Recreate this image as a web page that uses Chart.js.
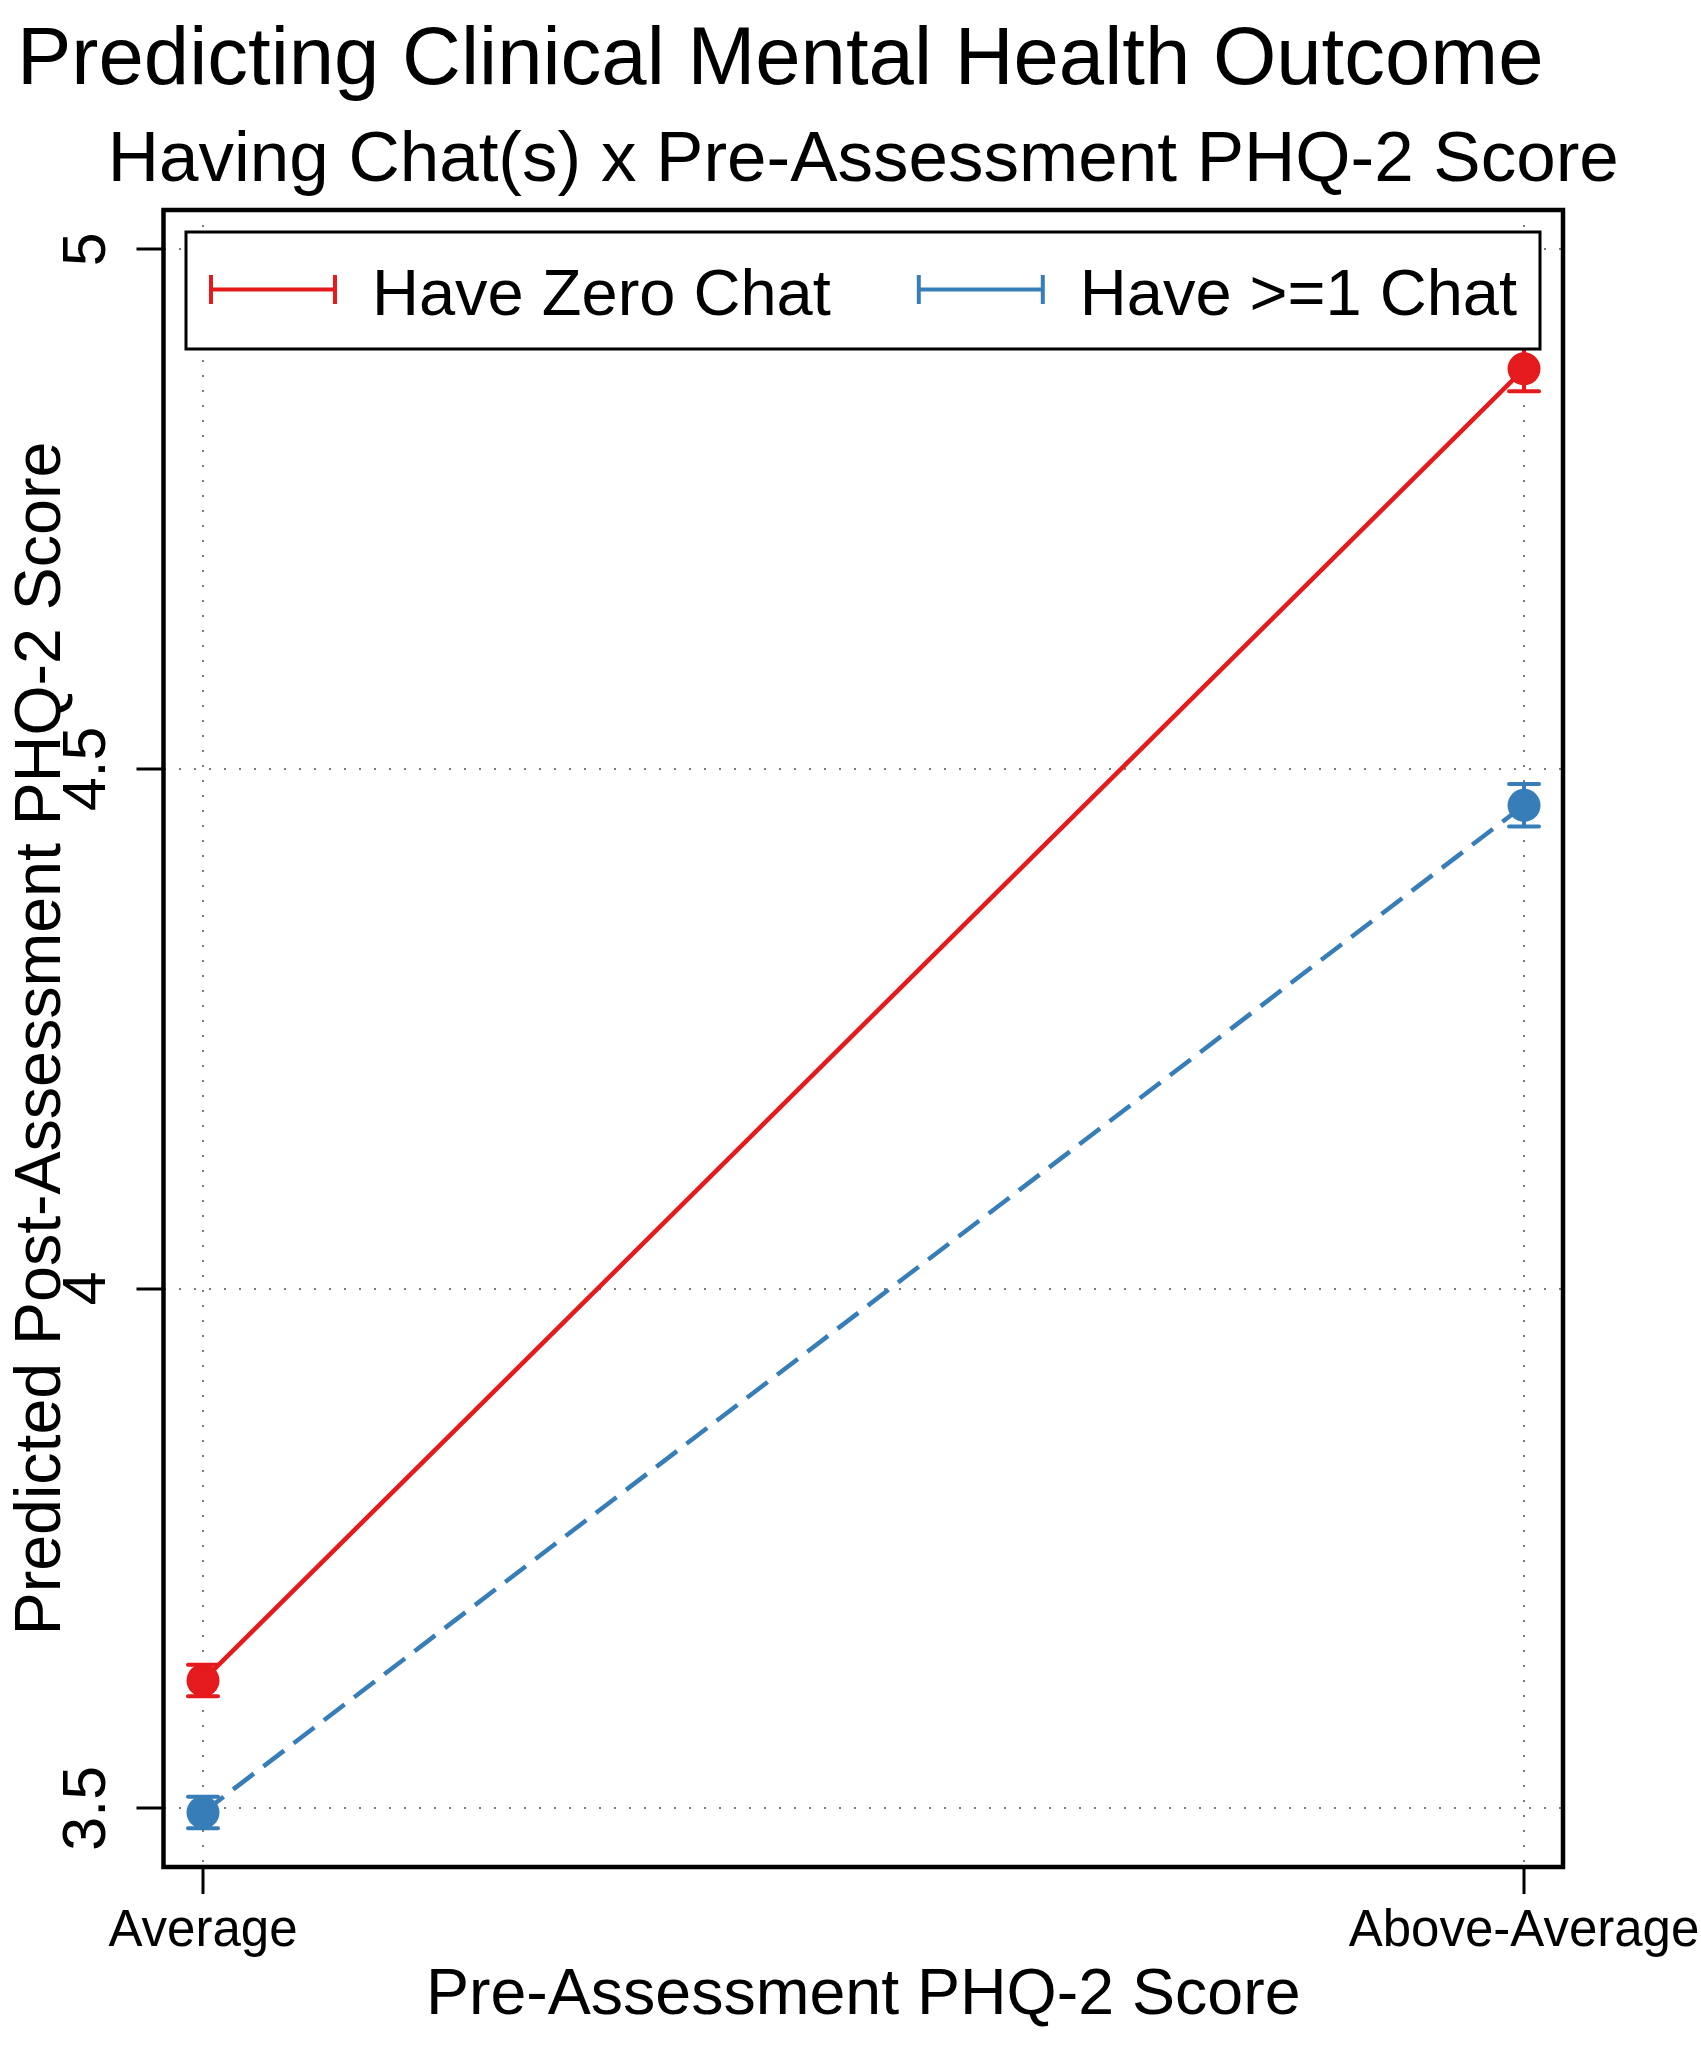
<!DOCTYPE html>
<html>
<head>
<meta charset="utf-8">
<script src="https://cdn.jsdelivr.net/npm/chart.js@4.4.1/dist/chart.umd.min.js"></script>
<style>
  html, body { margin: 0; padding: 0; background: #fff; }
  canvas { display: block; }
</style>
</head>
<body>
<canvas id="chart" width="1701" height="2048"></canvas>
<script>
// values
const xLabels = ['Average', 'Above-Average'];
const xValues = [0, 1];
const seriesNames = ['Have Zero Chat', 'Have >=1 Chat'];
const zeroChat = [3.623, 4.885];
const zeroChatErr = [0.0152, 0.0216];
const oneChat = [3.496, 4.465];
const oneChatErr = [0.0152, 0.0204];
const yTicks = [3.5, 4, 4.5, 5];
const subtitleText = 'Having Chat(s) x Pre-Assessment PHQ-2 Score';

const FONT = "'Liberation Sans', Arial, Helvetica, sans-serif";
const RED = '#e41a1c';
const BLUE = '#377eb8';

Chart.defaults.font.family = FONT;
Chart.defaults.color = '#000';

function toPoints(ys) {
    return xValues.map((x, i) => ({ x: x, y: ys[i] }));
}

// error bars (confidence intervals) drawn with the chart's own scales
const errorBars = {
    id: 'errorBars',
    beforeDatasetsDraw(chart) {
        const { ctx, scales: { x, y } } = chart;
        chart.data.datasets.forEach(ds => {
            ctx.save();
            ctx.strokeStyle = ds.borderColor;
            ctx.lineWidth = 4;
            ctx.lineCap = 'round';
            ds.data.forEach((p, j) => {
                const px = x.getPixelForValue(p.x);
                const lo = y.getPixelForValue(p.y - ds.errors[j]);
                const hi = y.getPixelForValue(p.y + ds.errors[j]);
                ctx.beginPath();
                ctx.moveTo(px, lo); ctx.lineTo(px, hi);
                ctx.moveTo(px - 15, lo); ctx.lineTo(px + 15, lo);
                ctx.moveTo(px - 15, hi); ctx.lineTo(px + 15, hi);
                ctx.stroke();
            });
            ctx.restore();
        });
    }
};

// subtitle centred over the plot, plot frame, boxed legend inside the plot
const frameAndLegend = {
    id: 'frameAndLegend',
    afterDraw(chart) {
        const { ctx, chartArea: a } = chart;
        ctx.save();

        ctx.fillStyle = '#000';
        ctx.font = '71px ' + FONT;
        ctx.textAlign = 'center';
        ctx.textBaseline = 'alphabetic';
        ctx.fillText(subtitleText, (a.left + a.right) / 2, 180.5);

        ctx.strokeStyle = '#000';
        ctx.lineWidth = 4.5;
        ctx.strokeRect(a.left, a.top, a.right - a.left, a.bottom - a.top);

        const bx = a.left + 22.5, by = a.top + 22;
        const bw = a.right - a.left - 45.5, bh = 117;
        ctx.fillStyle = '#fff';
        ctx.fillRect(bx, by, bw, bh);
        ctx.lineWidth = 3;
        ctx.strokeRect(bx, by, bw, bh);

        ctx.font = '65px ' + FONT;
        const sample = 128, gap1 = 35, gap2 = 86;
        const items = chart.data.datasets.map(ds => ({
            label: ds.label,
            color: ds.borderColor,
            w: ctx.measureText(ds.label).width
        }));
        const total = items.reduce((s, it) => s + sample + gap1 + it.w, 0) + gap2 * (items.length - 1);
        let x = bx + (bw - total) / 2;
        const cy = by + 57.5;
        items.forEach(it => {
            ctx.strokeStyle = it.color;
            ctx.lineWidth = 4;
            ctx.beginPath();
            ctx.moveTo(x, cy); ctx.lineTo(x + sample, cy);
            ctx.moveTo(x + 2, cy - 14.5); ctx.lineTo(x + 2, cy + 14.5);
            ctx.moveTo(x + sample - 2, cy - 14.5); ctx.lineTo(x + sample - 2, cy + 14.5);
            ctx.stroke();
            ctx.fillStyle = '#000';
            ctx.textAlign = 'left';
            ctx.textBaseline = 'alphabetic';
            ctx.fillText(it.label, x + sample + gap1, by + 83);
            x += sample + gap1 + it.w + gap2;
        });
        ctx.restore();
    }
};

const gridOpts = {
    color: '#7a7a7a',
    lineWidth: 2,
    tickLength: 27,
    tickColor: '#000',
    tickWidth: 3,
    tickBorderDash: []
};

new Chart(document.getElementById('chart').getContext('2d'), {
    type: 'line',
    data: {
        datasets: [{
            label: seriesNames[0],
            data: toPoints(zeroChat),
            errors: zeroChatErr,
            borderColor: RED,
            backgroundColor: RED,
            borderWidth: 4.5,
            pointRadius: 16.5,
            pointBorderWidth: 0,
            pointBackgroundColor: RED,
            tension: 0
        }, {
            label: seriesNames[1],
            data: toPoints(oneChat),
            errors: oneChatErr,
            borderColor: BLUE,
            backgroundColor: BLUE,
            borderWidth: 4.5,
            borderDash: [26, 12],
            pointRadius: 16.5,
            pointBorderWidth: 0,
            pointBackgroundColor: BLUE,
            tension: 0
        }]
    },
    options: {
        responsive: false,
        animation: false,
        layout: {
            padding: { left: 17, right: 138, top: 0, bottom: 0 }
        },
        plugins: {
            legend: { display: false },
            tooltip: { enabled: false },
            title: {
                display: true,
                text: 'Predicting Clinical Mental Health Outcome',
                align: 'start',
                color: '#000',
                font: { size: 81.5, weight: 'normal', lineHeight: 1.2 },
                padding: { top: 12.2, bottom: 100 }
            }
        },
        scales: {
            x: {
                type: 'linear',
                min: -0.0299,
                max: 1.0295,
                afterBuildTicks: s => { s.ticks = xValues.map(v => ({ value: v })); },
                afterFit: s => { s.height = 181; s.paddingLeft = 0; s.paddingRight = 0; },
                ticks: {
                    padding: 7.5,
                    color: '#000',
                    maxRotation: 0,
                    minRotation: 0,
                    autoSkip: false,
                    font: { size: 51, lineHeight: 1.2 },
                    callback: (v, i) => xLabels[i]
                },
                title: {
                    display: true,
                    text: 'Pre-Assessment PHQ-2 Score',
                    color: '#000',
                    font: { size: 64.5, lineHeight: 1.2 },
                    padding: { top: 0, bottom: 13 }
                },
                grid: gridOpts,
                border: { display: false, dash: [2, 13] }
            },
            y: {
                min: 3.4435,
                max: 5.0378,
                afterBuildTicks: s => { s.ticks = yTicks.map(v => ({ value: v })); },
                afterFit: s => { s.width = 146.5; s.paddingTop = 0; s.paddingBottom = 0; },
                ticks: {
                    minRotation: 90,
                    maxRotation: 90,
                    crossAlign: 'center',
                    padding: 5.5,
                    color: '#000',
                    font: { size: 61, lineHeight: 1.2 },
                    callback: v => String(v)
                },
                title: {
                    display: true,
                    text: 'Predicted Post-Assessment PHQ-2 Score',
                    color: '#000',
                    font: { size: 64.5, lineHeight: 0.6 },
                    padding: { top: 6, bottom: 0 }
                },
                grid: gridOpts,
                border: { display: false, dash: [2, 13] }
            }
        }
    },
    plugins: [errorBars, frameAndLegend]
});
</script>
</body>
</html>
